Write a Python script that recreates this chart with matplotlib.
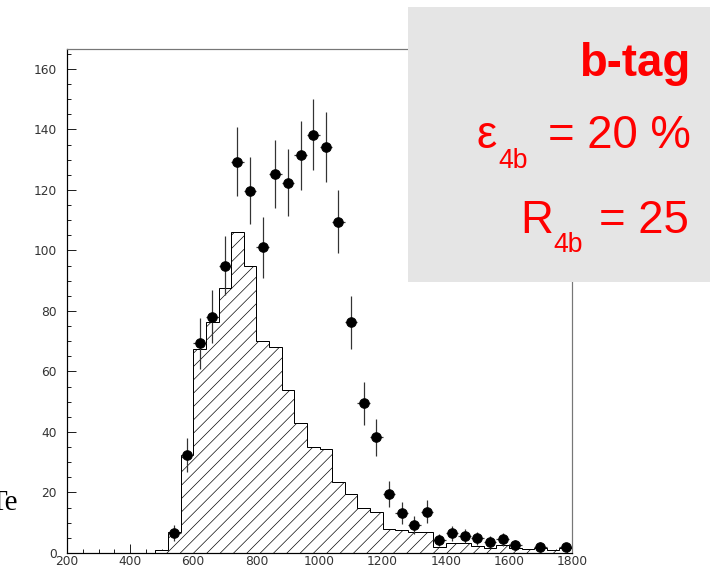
import numpy as np
import matplotlib
matplotlib.use("Agg")
import matplotlib.pyplot as plt
from matplotlib.patches import Rectangle
from matplotlib.ticker import MultipleLocator

# Simulated background: bin edges (GeV) and expected counts per 40 GeV bin
bin_edges = np.arange(480, 1801, 40)
background = [1, 7, 32.5, 67.5, 76.5, 87.5, 106, 95, 70, 68, 54, 43, 35, 34.5,
              23.5, 19.5, 15, 13.5, 8, 7.5, 7, 7, 2, 3.2, 3.2, 2.3, 1.5, 2.6,
              1.5, 1.2, 1.7, 0.9, 1.5]

# Observed events at bin centres
data_x = [540, 580, 620, 660, 700, 740, 780, 820, 860, 900, 940, 980, 1020,
          1060, 1100, 1140, 1180, 1220, 1260, 1300, 1340, 1380, 1420, 1460,
          1500, 1540, 1580, 1620, 1700, 1780]
data_y = [6.7, 32.4, 69.3, 78.1, 94.9, 129.4, 119.8, 101.1, 125.2, 122.4,
          131.4, 138.2, 134.1, 109.5, 76.3, 49.5, 38.2, 19.5, 13.3, 9.3, 13.7,
          4.3, 6.5, 5.7, 4.8, 3.7, 4.6, 2.6, 2.1, 1.9]

x_ticks = [200, 400, 600, 800, 1000, 1200, 1400, 1600, 1800]
y_ticks = [0, 20, 40, 60, 80, 100, 120, 140, 160]

W, H, DPI = 710, 573, 80
plt.rcParams['hatch.linewidth'] = 0.6
plt.rcParams['font.family'] = ['DejaVu Sans']

fig = plt.figure(figsize=(W / DPI, H / DPI), dpi=DPI)
fig.patch.set_facecolor('white')


def px(x, y):
    """Pixel position -> figure fraction."""
    return x / W, 1 - y / H


ax = fig.add_axes([67 / W, (H - 553) / H, 505 / W, 504 / H])
ax.set_xlim(200, 1800)
ax.set_ylim(0, 166.6)

# Background histogram, hatched
ax.stairs(background, bin_edges, fill=True, facecolor='white',
          edgecolor='black', hatch='//', linewidth=0.9, zorder=2)

# Data points with Poisson errors
yerr = np.sqrt(np.array(data_y))
ax.errorbar(data_x, data_y, yerr=yerr, xerr=20, fmt='o', color='black',
            ecolor='#333333', elinewidth=1.1, markersize=8.5, capsize=0,
            zorder=4)

for side in ['left', 'bottom']:
    ax.spines[side].set_color('black')
    ax.spines[side].set_linewidth(1.1)
for side in ['top', 'right']:
    ax.spines[side].set_color('#777777')
    ax.spines[side].set_linewidth(1.1)

ax.set_xticks(x_ticks)
ax.set_yticks(y_ticks)
ax.xaxis.set_minor_locator(MultipleLocator(50))
ax.yaxis.set_minor_locator(MultipleLocator(5))
ax.tick_params(which='both', direction='in', top=False, right=False,
               colors='#222222', labelsize=11, labelcolor='#333333')
ax.tick_params(which='major', length=8, width=0.9)
ax.tick_params(which='minor', length=4, width=0.9)
ax.tick_params(axis='x', pad=2)
ax.tick_params(axis='y', pad=9)

# Axis title running off the left edge of the canvas
fig.text(*px(-11, 510), "Te", family=['Liberation Serif'], fontsize=26,
         color='black', ha='left', va='baseline')

# Info panel
fig.add_artist(Rectangle(px(408, 282), (W - 408) / W, 275 / H,
                         transform=fig.transFigure, facecolor='#e5e5e5',
                         edgecolor='none', zorder=1))

red = '#ff0000'
sans = ['Liberation Sans']
fig.text(*px(690, 76), "b-tag", family=sans, fontweight='bold', fontsize=41,
         color=red, ha='right', va='baseline', zorder=3)

fig.text(*px(497, 148), "\u03b5", family=sans, fontsize=41, color=red,
         ha='right', va='baseline', zorder=3)
fig.text(*px(498, 168), "4b", family=sans, fontsize=24, color=red,
         ha='left', va='baseline', zorder=3)
fig.text(*px(691, 148), "= 20 %", family=sans, fontsize=41, color=red,
         ha='right', va='baseline', zorder=3)

fig.text(*px(520, 233), "R", family=sans, fontsize=41, color=red,
         ha='left', va='baseline', zorder=3)
fig.text(*px(553, 252), "4b", family=sans, fontsize=24, color=red,
         ha='left', va='baseline', zorder=3)
fig.text(*px(689, 233), "= 25", family=sans, fontsize=41, color=red,
         ha='right', va='baseline', zorder=3)

fig.savefig("out.png", dpi=DPI)
